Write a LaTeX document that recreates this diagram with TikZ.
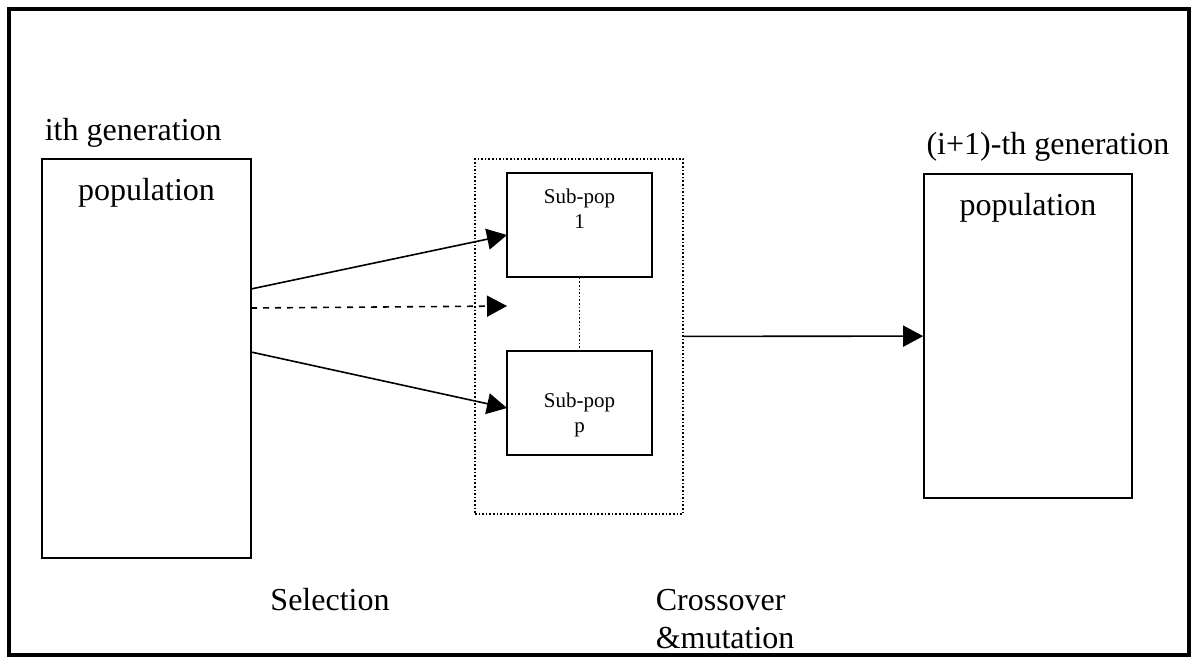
\documentclass[tikz,border=0pt]{standalone}
\usepackage{fontspec}
\setmainfont{Liberation Serif}
\usetikzlibrary{positioning}
\usetikzlibrary{arrows.meta}
\tikzset{pop box/.style={rectangle,draw,inner sep=0pt},
	sub box/.style={rectangle,draw,inner sep=0pt,minimum width=72.5pt,minimum height=52pt},
	big text/.style={font=\fontsize{16}{19}\selectfont,inner sep=0pt},
	small text/.style={font=\fontsize{10.5}{12.5}\selectfont,inner sep=0pt,align=center},}

\begin{document}
\begin{tikzpicture}[x=0.5pt, y=-0.5pt, -{Triangle[length=10pt,width=10.5pt]}, thick]
	\useasboundingbox (0,0) rectangle (1198,664);
	\draw[-,line width=2pt] (9,9) rectangle (1189,655);

	\node[pop box, minimum width=104.5pt, minimum height=199.5pt] (popi) at (146.5,358.5) {};
	\node[pop box, minimum width=104pt, minimum height=162pt] (popnext) at (1028,336) {};
	\node[pop box, densely dotted, minimum width=104pt, minimum height=177.5pt] (group) at (579,336.5) {};
	\node[sub box] (subone) at (579.5,225) {};
	\node[sub box] (subp) at (579.5,403) {};

	\node[big text, anchor=base] at (popi.north |- 0,200) {population};
	\node[big text, anchor=base] at (popnext.north |- 0,215) {population};
	\node[big text, anchor=base west] (genlabel) at (44,140) {ith generation};
	\node[big text, anchor=base] (nextlabel) at (1048,154) {(i+1)-th generation};
	\node[small text, anchor=north] at ([yshift=-8pt]subone.north) {Sub-pop\\1};
	\node[small text, anchor=north] at ([yshift=-21pt]subp.north) {Sub-pop\\p};
	\node[big text] (sel) at (330,600) {Selection};
	\node[big text, align=left, anchor=north west] (cross) at (655,589) {Crossover\\\&mutation};

	% selection arrows
	\coordinate (a1) at (251,289);
	\coordinate (a2) at (251,308);
	\coordinate (a3) at (251,352);
	\coordinate (b1) at (507,235);
	\coordinate (b2) at (507,306);
	\coordinate (b3) at (507,408);
	\path
	(a1) edge (b1)
	(a2) edge[dashed] (b2)
	(a3) edge (b3)
	(subone) edge[-,densely dotted] (subp)
	(group) edge (popnext);
\end{tikzpicture}
\end{document}
